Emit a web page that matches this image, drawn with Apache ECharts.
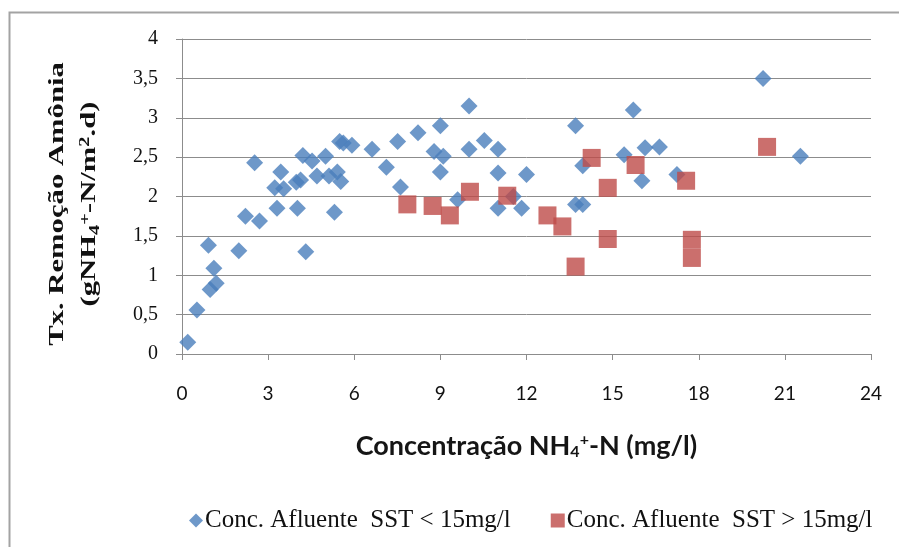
<!DOCTYPE html>
<html>
<head>
<meta charset="utf-8">
<script src="https://cdn.jsdelivr.net/npm/echarts@6/dist/echarts.min.js"></script>
<style>
  html, body { margin: 0; padding: 0; background: #fff; }
  #chart { width: 899px; height: 547px; }
</style>
</head>
<body>
<div id="chart"></div>
<script>
// Ammonia removal rate vs. influent NH4+-N concentration
const seriesNames = ['Conc. Afluente  SST < 15mg/l', 'Conc. Afluente  SST > 15mg/l'];

// influent SST < 15 mg/l : [NH4+-N (mg/l), removal rate]
const lowSST = [
  [0.20, 0.15], [0.52, 0.56], [0.92, 1.38], [1.11, 1.09], [1.19, 0.90], [0.98, 0.82],
  [1.98, 1.31], [2.21, 1.75], [2.53, 2.43], [2.70, 1.69], [3.23, 2.11], [3.31, 1.85],
  [3.44, 2.31], [3.54, 2.10], [4.02, 1.85], [3.98, 2.18], [4.13, 2.21], [4.21, 2.52],
  [4.53, 2.45], [4.31, 1.30], [4.70, 2.26], [5.00, 2.51], [5.12, 2.26], [5.41, 2.31],
  [5.53, 2.19], [5.31, 1.80], [5.49, 2.70], [5.62, 2.68], [5.92, 2.65], [6.62, 2.60],
  [7.12, 2.37], [7.51, 2.70], [7.61, 2.12], [8.22, 2.81], [9.00, 2.90], [8.78, 2.57],
  [9.10, 2.51], [9.00, 2.31], [10.00, 3.15], [10.00, 2.60], [10.53, 2.71], [11.01, 2.60],
  [11.01, 2.30], [11.01, 1.85], [11.54, 2.00], [11.83, 1.85], [12.00, 2.28], [9.60, 1.96],
  [13.71, 2.90], [13.71, 1.90], [13.96, 1.90], [13.96, 2.39], [15.72, 3.10], [15.40, 2.53],
  [16.02, 2.20], [16.13, 2.62], [16.63, 2.63], [17.24, 2.28], [20.24, 3.50], [21.54, 2.51]
];

// influent SST > 15 mg/l
const highSST = [
  [7.85, 1.90], [8.73, 1.88], [9.33, 1.76], [10.03, 2.06], [11.33, 2.01], [12.73, 1.76],
  [13.25, 1.62], [13.71, 1.11], [14.27, 2.49], [14.83, 2.11], [14.83, 1.46], [15.80, 2.40],
  [17.56, 2.20], [17.76, 1.45], [17.76, 1.22], [20.38, 2.63]
];

const xTicks = { min: 0, max: 24, interval: 3 };
const yTicks = { min: 0, max: 4, interval: 0.5 };

const serif = 'Liberation Serif';
const sans = 'Lato';
const gridColor = '#8c8c8c';

const chart = echarts.init(document.getElementById('chart'), null, { renderer: 'canvas' });

chart.setOption({
  backgroundColor: '#ffffff',
  animation: false,
  grid: { left: 182, top: 39, width: 689, height: 315, containLabel: false },
  xAxis: {
    type: 'value',
    min: xTicks.min, max: xTicks.max, interval: xTicks.interval,
    axisLine: { show: true, onZero: false, lineStyle: { color: gridColor, width: 1 } },
    axisTick: { show: true, length: 6, lineStyle: { color: gridColor } },
    splitLine: { show: false },
    axisLabel: { margin: 30, fontFamily: sans, fontSize: 19, color: '#111' },
    name: 'Concentração NH{sub|4}{sup|+}-N (mg/l)',
    nameLocation: 'middle',
    nameGap: 78,
    nameTextStyle: {
      fontFamily: sans, fontSize: 27, fontWeight: 'bold', color: '#151515',
      rich: {
        sub: { fontFamily: sans, fontSize: 16, fontWeight: 'bold', color: '#151515', padding: [12, 0, 0, 0] },
        sup: { fontFamily: sans, fontSize: 16, fontWeight: 'bold', color: '#151515', padding: [0, 0, 12, 0] }
      }
    }
  },
  yAxis: {
    type: 'value',
    min: yTicks.min, max: yTicks.max, interval: yTicks.interval,
    axisLine: { show: true, lineStyle: { color: gridColor, width: 1 } },
    axisTick: { show: true, length: 6, lineStyle: { color: gridColor } },
    splitLine: { show: true, lineStyle: { color: gridColor, width: 1 } },
    axisLabel: {
      margin: 24, fontFamily: serif, fontSize: 20, color: '#111',
      formatter: v => String(v).replace('.', ',')
    }
  },
  legend: {
    left: 184, top: 503,
    itemGap: 40, itemWidth: 14, itemHeight: 14,
    textStyle: { fontFamily: serif, fontSize: 25, color: '#111', padding: [0, 0, 0, -3] },
    data: [
      { name: seriesNames[0], icon: 'diamond' },
      { name: seriesNames[1], icon: 'rect' }
    ]
  },
  graphic: [
    {
      type: 'rect', silent: true, z: -1,
      shape: { x: 9.5, y: 12.5, width: 1000, height: 1000 },
      style: { fill: null, stroke: '#a3a3a3', lineWidth: 2 }
    },
    {
      type: 'group',
      x: 74, y: 204,
      rotation: Math.PI / 2,
      scaleX: 1.46,
      children: [
        {
          type: 'text', x: 0, y: -16,
          style: {
            text: 'Tx. Remoção Amônia',
            font: 'bold 21px "Liberation Serif"',
            fill: '#111', align: 'center', verticalAlign: 'middle'
          }
        },
        {
          type: 'text', x: 0, y: 16,
          style: {
            text: '{a|(gNH}{sub|4}{sup|+}{a|-N/m}{sup|2}{a|.d)}',
            fill: '#111', align: 'center', verticalAlign: 'middle',
            rich: {
              a: { font: 'bold 21px "Liberation Serif"', fill: '#111' },
              sub: { font: 'bold 14px "Liberation Serif"', fill: '#111', padding: [10, 0, 0, 0] },
              sup: { font: 'bold 14px "Liberation Serif"', fill: '#111', padding: [0, 0, 10, 0] }
            }
          }
        }
      ]
    }
  ],
  series: [
    {
      name: seriesNames[0], type: 'scatter',
      symbol: 'diamond', symbolSize: 17,
      itemStyle: { color: '#4a7ebb' },
      data: lowSST
    },
    {
      name: seriesNames[1], type: 'scatter',
      symbol: 'rect', symbolSize: 18,
      itemStyle: { color: '#be4b48' },
      data: highSST
    }
  ]
});
</script>
</body>
</html>
